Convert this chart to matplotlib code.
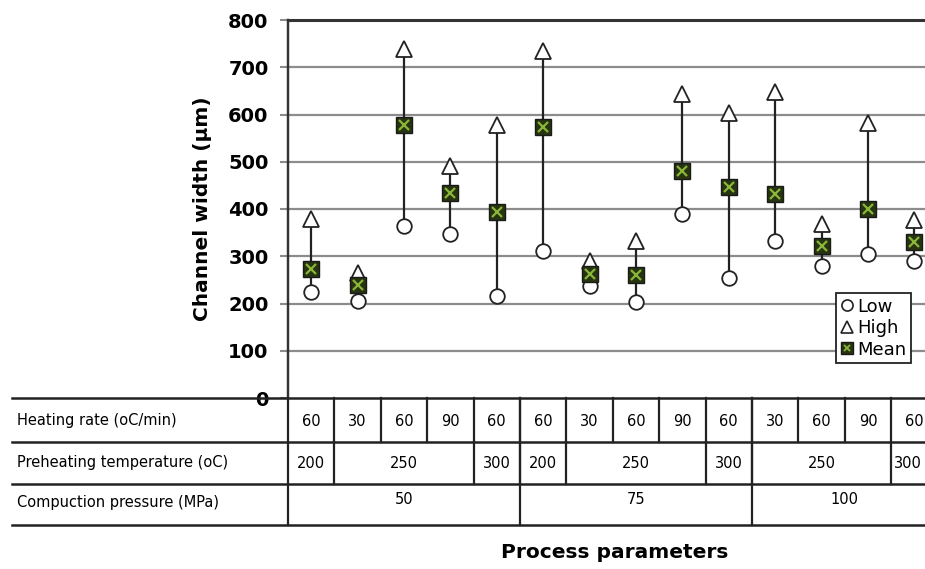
import matplotlib
matplotlib.use("Agg")
import matplotlib.pyplot as plt
from matplotlib.transforms import blended_transform_factory
from matplotlib.legend_handler import HandlerTuple
import numpy as np

# ---- data ----
low  = [225, 205, 363, 348, 216, 311, 237, 204, 389, 253, 332, 280, 304, 290]
high = [378, 265, 738, 491, 578, 735, 291, 332, 643, 603, 647, 368, 582, 376]
mean = [274, 239, 577, 434, 393, 573, 262, 260, 480, 446, 431, 322, 399, 330]

heating_rate = ["60", "30", "60", "90", "60", "60", "30", "60", "90", "60", "30", "60", "90", "60"]
preheat_groups = [("200", 0, 0), ("250", 1, 3), ("300", 4, 4), ("200", 5, 5),
                  ("250", 6, 8), ("300", 9, 9), ("250", 10, 12), ("300", 13, 13)]
pressure_groups = [("50", 0, 4), ("75", 5, 9), ("100", 10, 13)]
row_labels = ["Heating rate (oC/min)", "Preheating temperature (oC)", "Compuction pressure (MPa)"]
yticks = [0, 100, 200, 300, 400, 500, 600, 700, 800]

W, H = 925, 569
fig = plt.figure(figsize=(W / 100, H / 100), dpi=100)
cat_w = 46.4
left_px, top_px, bot_px = 288, 20, 398
n = len(low)
ax = fig.add_axes([left_px / W, (H - bot_px) / H, n * cat_w / W, (bot_px - top_px) / H])

x = np.arange(n)
ax.set_xlim(-0.5, n - 0.5)
ax.set_ylim(0, 800)

# grid
for yv in yticks[1:]:
    ax.axhline(yv, color="#8c8c8c", lw=1.6, zorder=0)

ax.vlines(x, low, high, color="#222222", lw=1.6, zorder=1)
h_low, = ax.plot(x, low, "o", ms=10.5, mfc="white", mec="#222222", mew=1.3, ls="none", zorder=3)
h_high, = ax.plot(x, high, "^", ms=11.5, mfc="white", mec="#222222", mew=1.3, ls="none", zorder=3)
h_msq, = ax.plot(x, mean, "s", ms=11, mfc="#263510", mec="#1a1a1a", mew=1.0, ls="none", zorder=4)
h_mx, = ax.plot(x, mean, "x", ms=7, mec="#8bb53a", mew=1.6, ls="none", zorder=5)

ax.set_yticks(yticks)
ax.set_yticklabels([str(v) for v in yticks], fontsize=14, fontweight="bold")
ax.tick_params(axis="y", length=6, color="#8c8c8c", width=1.5, pad=8)
ax.set_xticks([])
for s in ["right", "bottom"]:
    ax.spines[s].set_visible(False)
ax.spines["top"].set_color("#333333")
ax.spines["top"].set_linewidth(2.2)
ax.spines["left"].set_color("#333333")
ax.spines["left"].set_linewidth(1.6)

ax.set_ylabel("Channel width (\u00b5m)", fontsize=14.5, fontweight="bold", labelpad=12)

# legend with small markers
l_low, = plt.plot([], [], "o", ms=8, mfc="white", mec="#222222", mew=1.2, ls="none")
l_high, = plt.plot([], [], "^", ms=8, mfc="white", mec="#222222", mew=1.2, ls="none")
l_msq, = plt.plot([], [], "s", ms=8, mfc="#263510", mec="#1a1a1a", mew=1.0, ls="none")
l_mx, = plt.plot([], [], "x", ms=5, mec="#8bb53a", mew=1.3, ls="none")
leg = ax.legend([l_low, l_high, (l_msq, l_mx)], ["Low", "High", "Mean"],
                handler_map={tuple: HandlerTuple(ndivide=1, pad=0)},
                loc="upper left", bbox_to_anchor=(836 / W, (H - 293) / H),
                bbox_transform=fig.transFigure, fontsize=13, frameon=True,
                fancybox=False, handlelength=0.7, handletextpad=0.25,
                borderpad=0.25, labelspacing=0.2, borderaxespad=0)
leg.get_frame().set_edgecolor("#222222")
leg.get_frame().set_linewidth(1.3)
leg.get_frame().set_alpha(1)
leg.set_zorder(10)

# ---- table under the axis ----
tr = blended_transform_factory(ax.transData, ax.transAxes)
def ya(px):
    return (bot_px - px) / (bot_px - top_px)

row_lines_px = [398, 442, 484, 525]
x_left_data = -0.5 + (12 - left_px) / cat_w
x_right_data = n - 0.5
lc = "#222222"
for i, py in enumerate(row_lines_px):
    ax.plot([x_left_data, x_right_data], [ya(py), ya(py)], color=lc, lw=1.8,
            transform=tr, clip_on=False, zorder=6)

# full-height left boundary
ax.plot([-0.5, -0.5], [1, ya(525)], color=lc, lw=1.6, transform=tr, clip_on=False)

# heating rate row
for i in range(1, n):
    ax.plot([i - 0.5, i - 0.5], [ya(398), ya(442)], color=lc, lw=1.6, transform=tr, clip_on=False)
for i, t in enumerate(heating_rate):
    ax.text(i, ya(421), t, ha="center", va="center", fontsize=10.5, transform=tr)

# preheating row
for lab, a, b in preheat_groups:
    if a > 0:
        ax.plot([a - 0.5, a - 0.5], [ya(442), ya(484)], color=lc, lw=1.6, transform=tr, clip_on=False)
    xc = (a + b) / 2
    if b == n - 1:
        ax.text(xc - 0.45, ya(463), lab, ha="left", va="center", fontsize=10.5, transform=tr)
    else:
        ax.text(xc, ya(463), lab, ha="center", va="center", fontsize=10.5, transform=tr)

# pressure row
for lab, a, b in pressure_groups:
    if a > 0:
        ax.plot([a - 0.5, a - 0.5], [ya(398), ya(525)], color=lc, lw=1.6, transform=tr, clip_on=False)
    ax.text((a + b) / 2, ya(500), lab, ha="center", va="center", fontsize=10.5, transform=tr)

for lab, py in zip(row_labels, [421, 463, 503]):
    fig.text(17 / W, (H - py) / H, lab, ha="left", va="center", fontsize=10.5)

fig.text(615 / W, (H - 552) / H, "Process parameters", ha="center", va="center",
         fontsize=14.5, fontweight="bold")

fig.savefig("out.png", dpi=100)
